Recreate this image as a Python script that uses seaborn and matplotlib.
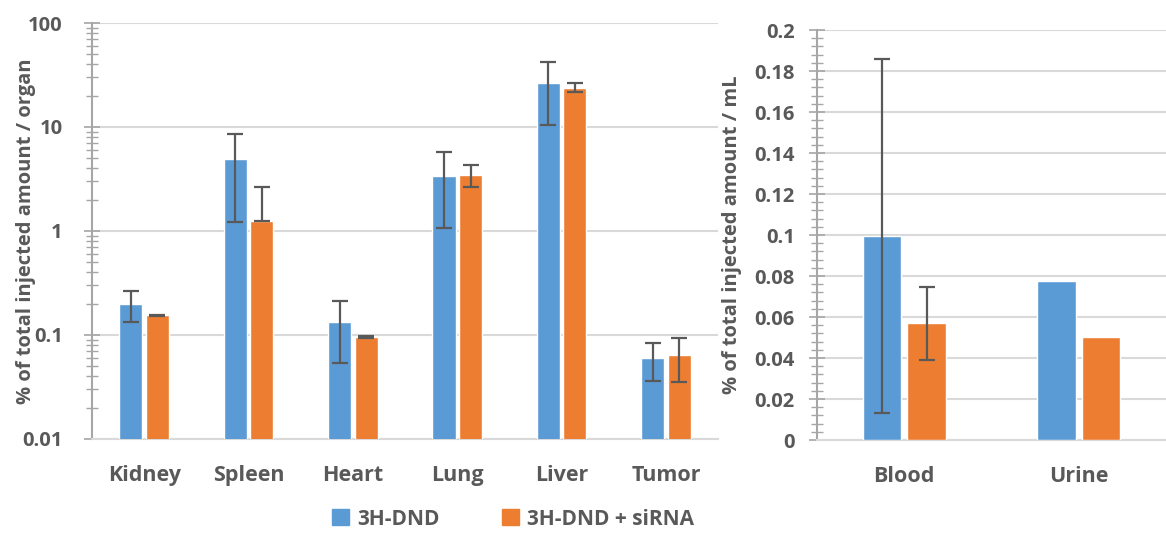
import numpy as np
import pandas as pd
import matplotlib
matplotlib.use("Agg")
import matplotlib.pyplot as plt
import seaborn as sns
from matplotlib.ticker import LogLocator, FixedLocator


# Data

organs = ["Kidney", "Spleen", "Heart", "Lung", "Liver", "Tumor"]
organ_dnd = [0.20, 4.92, 0.132, 3.40, 26.3, 0.0597]
organ_dnd_err = [0.067, 3.7, 0.078, 2.33, 15.8, 0.024]
organ_sirna = [0.154, 1.26, 0.095, 3.48, 23.9, 0.0643]
organ_sirna_err = [0.002, 1.4, 0.002, 0.85, 2.3, 0.029]

fluids = ["Blood", "Urine"]
fluid_dnd = [0.0995, 0.0776]
fluid_dnd_err = [0.0865, np.nan]
fluid_sirna = [0.057, 0.0501]
fluid_sirna_err = [0.0178, np.nan]

series = ["3H-DND", "3H-DND + siRNA"]
colors = ["#5B9BD5", "#ED7D31"]

log_ticks = [0.01, 0.1, 1, 10, 100]
log_labels = ["0.01", "0.1", "1", "10", "100"]
lin_ticks = [0, 0.02, 0.04, 0.06, 0.08, 0.1, 0.12, 0.14, 0.16, 0.18, 0.2]
lin_labels = ["0", "0.02", "0.04", "0.06", "0.08", "0.1", "0.12",
              "0.14", "0.16", "0.18", "0.2"]

text_color = "#595959"
grid_color = "#D9D9D9"
spine_color = "#A6A6A6"

sns.set_style("white")
plt.rcParams["font.family"] = ["Open Sans", "DejaVu Sans"]
plt.rcParams["font.weight"] = "bold"


def long_table(cats, a, b):
    return pd.DataFrame({
        "cat": cats * 2,
        "val": list(a) + list(b),
        "series": [series[0]] * len(cats) + [series[1]] * len(cats),
    })


def draw_panel(ax, cats, a, a_err, b, b_err, log, ypad):
    df = long_table(cats, a, b)
    sns.barplot(data=df, x="cat", y="val", hue="series", palette=colors,
                width=0.51, gap=0.13, errorbar=None, ax=ax, legend=False,
                saturation=1, zorder=3)

    # error bars on top of the bars
    n = len(cats)
    vals = list(a) + list(b)
    errs = list(a_err) + list(b_err)
    for i, patch in enumerate(ax.patches[:2 * n]):
        e = errs[i]
        if e is None or np.isnan(e):
            continue
        v = vals[i]
        lo = e if (not log or v - e > 0) else 0
        x = patch.get_x() + patch.get_width() / 2
        ax.errorbar(x, v, yerr=[[lo], [e]], fmt="none", ecolor=text_color,
                    elinewidth=1.6, capsize=5.5, capthick=1.6, zorder=4)

    ax.set_xlabel("")
    ax.set_xlim(-0.5, n - 0.5)
    ax.tick_params(axis="x", length=0, pad=19, labelsize=15.5, labelcolor=text_color)
    ax.tick_params(axis="y", which="both", left=True, direction="inout",
                   colors=spine_color, labelcolor=text_color, labelsize=14.5, pad=ypad)
    ax.tick_params(axis="y", which="major", length=12, width=1.2)
    ax.tick_params(axis="y", which="minor", length=9, width=1.0)
    ax.yaxis.grid(True, which="major", color=grid_color, linewidth=1.5, zorder=0)
    ax.set_axisbelow(True)
    for s in ["top", "right"]:
        ax.spines[s].set_visible(False)
    ax.spines["left"].set_color(spine_color)
    ax.spines["left"].set_linewidth(1.5)
    ax.spines["bottom"].set_color(grid_color)
    ax.spines["bottom"].set_linewidth(1.5)


fig = plt.figure(figsize=(11.66, 5.57), dpi=100)
ax1 = fig.add_axes([0.0789, 0.2119, 0.537, 0.7468])
ax2 = fig.add_axes([0.7007, 0.2100, 0.2993, 0.7360])

# left panel: organs, log scale
ax1.set_yscale("log")
draw_panel(ax1, organs, organ_dnd, organ_dnd_err, organ_sirna, organ_sirna_err,
           log=True, ypad=15)
ax1.set_ylim(0.01, 100)
ax1.yaxis.set_major_locator(FixedLocator(log_ticks))
ax1.yaxis.set_minor_locator(LogLocator(base=10, subs=np.arange(2, 10)))
ax1.set_yticklabels(log_labels)
ax1.yaxis.set_minor_formatter(plt.NullFormatter())
ax1.set_ylabel("% of total injected amount / organ", fontsize=14.5,
               fontweight="bold", color=text_color)
ax1.yaxis.set_label_coords(-0.0894, 0.5)

# right panel: fluids, linear scale
draw_panel(ax2, fluids, fluid_dnd, fluid_dnd_err, fluid_sirna, fluid_sirna_err,
           log=False, ypad=10)
ax2.set_ylim(0, 0.2)
ax2.yaxis.set_major_locator(FixedLocator(lin_ticks))
ax2.yaxis.set_minor_locator(FixedLocator(np.arange(0, 0.2001, 0.004)))
ax2.set_yticklabels(lin_labels)
ax2.set_ylabel("% of total injected amount / mL", fontsize=14.5,
               fontweight="bold", color=text_color)
ax2.yaxis.set_label_coords(-0.2156, 0.5)

for ax in (ax1, ax2):
    for lab in ax.get_xticklabels() + ax.get_yticklabels():
        lab.set_fontweight("bold")

# legend below the left panel
handles = [plt.Rectangle((0, 0), 1, 1, color=c) for c in colors]
leg = fig.legend(handles, series, loc="center", bbox_to_anchor=(0.44, 0.068), ncol=2,
                 frameon=False, handlelength=0.8, handleheight=0.8,
                 columnspacing=3.0, handletextpad=0.4,
                 prop={"weight": "bold", "size": 15})
for t in leg.get_texts():
    t.set_color(text_color)

fig.savefig("out.png", dpi=100)
